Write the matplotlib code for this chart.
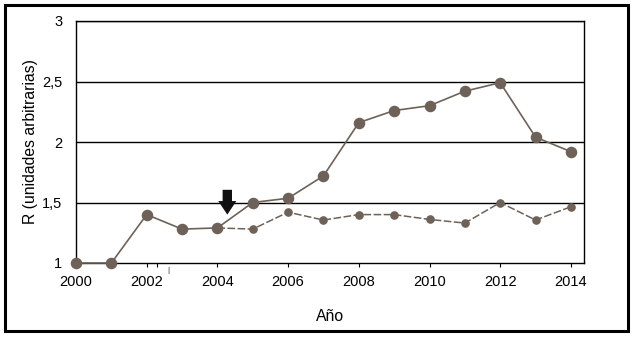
import matplotlib
matplotlib.use("Agg")
import matplotlib.pyplot as plt
from matplotlib.patches import Rectangle

plt.rcParams['font.family'] = ['Liberation Sans', 'DejaVu Sans']

# data
years = list(range(2000, 2015))
r_solid = [1.00, 1.00, 1.40, 1.28, 1.29, 1.50, 1.535, 1.72, 2.16, 2.26, 2.30, 2.42, 2.49, 2.04, 1.92]
years_dashed = list(range(2004, 2015))
r_dashed = [1.29, 1.28, 1.42, 1.355, 1.40, 1.40, 1.36, 1.33, 1.50, 1.355, 1.465]

xticks = [2000, 2002, 2004, 2006, 2008, 2010, 2012, 2014]
yticks = [1, 1.5, 2, 2.5, 3]
ytick_labels = ['1', '1,5', '2', '2,5', '3']

col = '#6e6258'

fig = plt.figure(figsize=(6.38, 3.37), dpi=100)
ax = fig.add_axes([76/638, 1-263/337, (584-76)/638, (263-21)/337])

# horizontal grid lines
for yv in yticks[1:]:
    ax.axhline(yv, color='black', lw=1.0, zorder=1)

ax.plot(years_dashed, r_dashed, color=col, lw=1.1, dashes=(5, 1.6),
        marker='o', ms=5.2, zorder=3, clip_on=False)
ax.plot(years, r_solid, color=col, lw=1.2, marker='o', ms=7.3, zorder=4, clip_on=False)

# arrow marking 2004
ax.annotate('', xy=(2004.28, 1.40), xytext=(2004.28, 1.605),
            arrowprops=dict(arrowstyle='simple,head_width=1.0,head_length=0.75,tail_width=0.52',
                            color='#111111', lw=0, mutation_scale=13,
                            shrinkA=0, shrinkB=0), zorder=5)

ax.set_xlim(2000, 2014.37)
ax.set_ylim(1, 3)
ax.set_xticks(xticks + [2002.3])
ax.set_xticklabels([str(x) for x in xticks] + [''])
ax.set_yticks(yticks)
ax.set_yticklabels(ytick_labels)
ax.tick_params(axis='x', length=3, width=0.8, direction='out', pad=6, labelsize=10.5)
ax.tick_params(axis='y', length=0, pad=10, labelsize=10.5)
for s in ax.spines.values():
    s.set_linewidth(1.0)
    s.set_color('black')

# stray mark beside the 2002 label
ax.text(2002.6, 0.94, '|', fontsize=6, color='#222222', ha='center', va='center')

ax.set_xlabel('Año', fontsize=11.3, labelpad=14)
ax.set_ylabel('R (unidades arbitrarias)', fontsize=11.3, labelpad=3)

# outer frame
fig.patches.append(Rectangle((5/638, 1-331/337), 623/638, 326/337, transform=fig.transFigure,
                             fill=False, edgecolor='black', lw=2.2))

fig.savefig('out.png', dpi=100)
